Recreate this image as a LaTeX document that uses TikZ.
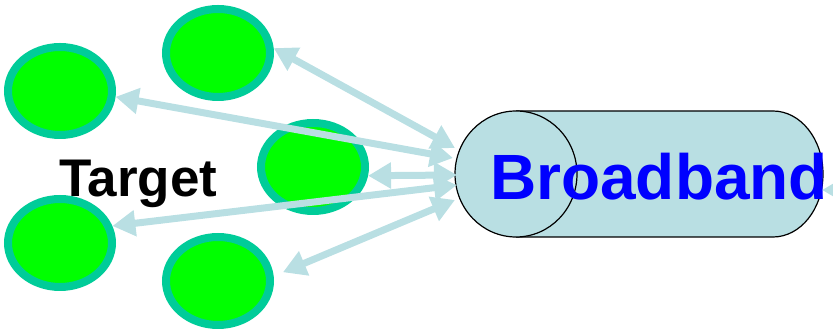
\documentclass[tikz,border=0pt]{standalone}
\usepackage{fontspec}
\setmainfont{Liberation Sans}
\usetikzlibrary{arrows.meta,shapes.geometric}
\definecolor{nodegreen}{HTML}{00FF00}
\definecolor{noderim}{HTML}{00CC99}
\definecolor{linkblue}{HTML}{B9DFE3}
\definecolor{labelblue}{HTML}{0000FF}
\tikzset{
  host/.style={ellipse, fill=nodegreen, draw=noderim, line width=8pt,
    minimum width=104pt, minimum height=88pt, inner sep=0pt},
  link/.style={linkblue, line width=7pt,
    {Triangle[length=23pt,width=25pt]}-{Triangle[length=23pt,width=25pt]}},
  onelink/.style={linkblue, line width=7pt, -{Triangle[length=23pt,width=25pt]}},
}
\begin{document}
\begin{tikzpicture}[x=1pt,y=1pt]
\useasboundingbox (0,0) rectangle (833,331);

% target hosts
\node[host] (e1) at (218,278) {};
\node[host] (e2) at (60,240) {};
\node[host] (e3) at (313,164) {};
\node[host] (e4) at (60,88) {};
\node[host] (e5) at (218,50) {};

\node[anchor=base west, inner sep=0pt, font=\bfseries\fontsize{53}{53}\selectfont] (tgt) at (59,134) {Target};

% broadband pipe
\fill[linkblue] (516,220) -- (773,220) arc[start angle=90, end angle=-90, x radius=50, y radius=63] -- (516,94) -- cycle;
\draw[line width=1.2pt] (516,220) -- (773,220) arc[start angle=90, end angle=-90, x radius=50, y radius=63] -- (516,94);
\filldraw[fill=linkblue, line width=1.2pt] (516,157) ellipse[x radius=61, y radius=63];
\node[anchor=base west, inner sep=0pt, text=labelblue, font=\bfseries\fontsize{64}{64}\selectfont] (bb) at (490,131) {Broadband};

% link ends on the pipe
\coordinate (p1) at (455,183);
\coordinate (p2) at (453,173);
\coordinate (p3) at (457,156);
\coordinate (p4) at (457,146);
\coordinate (p5) at (455,131);
\coordinate (p6) at (822,141);
\coordinate (far) at (880,141);

% links
\draw[link] (e1.5) -- (p1);
\draw[link] (e2.-6) -- (p2);
\draw[link] (e3.-9) -- (p3);
\draw[link] (e4.18) -- (p4);
\draw[link, shorten <=10pt] (e5.5) -- (p5);
\draw[onelink] (far) -- (p6);
\end{tikzpicture}
\end{document}
